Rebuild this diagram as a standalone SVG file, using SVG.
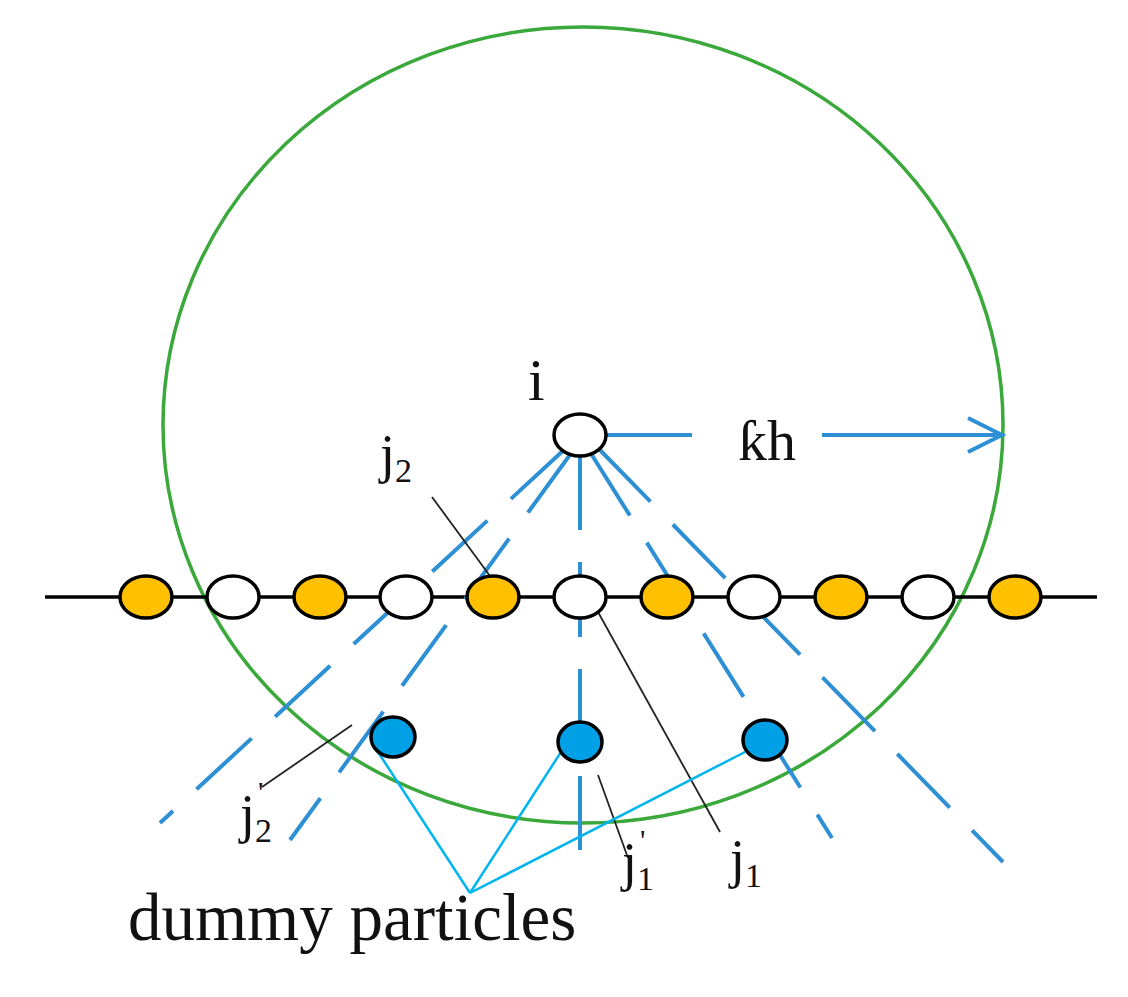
<svg xmlns="http://www.w3.org/2000/svg" width="1128" height="997" viewBox="0 0 1128 997">
<style>
.t{font-family:"Liberation Serif",serif;fill:#111}
.p{stroke:#000;stroke-width:3.5}
.o{fill:#FFC000}.w{fill:#fff}.d{fill:#00A0E6}
.ds{stroke:#2E90D4;stroke-width:4;stroke-dasharray:75 32;fill:none}
.ld{stroke:#222;stroke-width:1.8}
.cy{stroke:#00B4EE;stroke-width:2.5}
</style>
<defs><marker id="ar" markerWidth="40" markerHeight="40" refX="36" refY="20" orient="auto" markerUnits="userSpaceOnUse"><path d="M2 3 L36 20 L2 37" fill="none" stroke="#2E90D4" stroke-width="4"/></marker></defs>
<rect width="1128" height="997" fill="#fff"/>
<ellipse id="range" cx="583" cy="425" rx="420" ry="398" fill="none" stroke="#3AA83A" stroke-width="3.5"/>
<g id="connectors">
<line x1="45" y1="597" x2="1097" y2="597" stroke="#000" stroke-width="3.5"/>
<path class="ds" d="M566 448 L160 823"/>
<path class="ds" d="M572 452 L290 840"/>
<path class="ds" d="M580 455 L580 850"/>
<path class="ds" d="M590 452 L832 838"/>
<path class="ds" d="M598 448 L1003 862"/>
<line x1="607" y1="435" x2="692" y2="435" stroke="#2E90D4" stroke-width="4"/>
<line x1="822" y1="435" x2="1002" y2="435" stroke="#2E90D4" stroke-width="4" marker-end="url(#ar)"/>
<line class="ld" x1="432" y1="497" x2="490" y2="576"/>
<line class="ld" x1="598" y1="612" x2="720" y2="832"/>
<line class="ld" x1="598" y1="775" x2="628" y2="858"/>
<line class="ld" x1="262" y1="787" x2="352" y2="725"/>
<line class="cy" x1="470" y1="893" x2="378" y2="752"/>
<line class="cy" x1="470" y1="893" x2="561" y2="752"/>
<line class="cy" x1="470" y1="893" x2="745" y2="752"/>
</g>
<g id="i"><ellipse class="p w" cx="580" cy="435" rx="26" ry="21"/><text class="t" x="528" y="400" font-size="60">i</text></g>
<g id="chain">
<ellipse class="p o" cx="146" cy="597" rx="26" ry="21"/>
<ellipse class="p w" cx="233" cy="597" rx="26" ry="21"/>
<ellipse class="p o" cx="320" cy="597" rx="26" ry="21"/>
<ellipse class="p w" cx="406" cy="597" rx="26" ry="21"/>
<ellipse class="p o" cx="493" cy="597" rx="26" ry="21"/>
<ellipse class="p w" cx="580" cy="597" rx="26" ry="21"/>
<ellipse class="p o" cx="667" cy="597" rx="26" ry="21"/>
<ellipse class="p w" cx="754" cy="597" rx="26" ry="21"/>
<ellipse class="p o" cx="841" cy="597" rx="26" ry="21"/>
<ellipse class="p w" cx="928" cy="597" rx="26" ry="21"/>
<ellipse class="p o" cx="1015" cy="597" rx="26" ry="21"/>
</g>
<g id="dummies">
<ellipse class="p d" cx="393" cy="737" rx="22" ry="20"/>
<ellipse class="p d" cx="580" cy="742" rx="22" ry="20"/>
<ellipse class="p d" cx="765" cy="740" rx="22" ry="20"/>
</g>
<g id="labels">
<text class="t" x="380" y="472" font-size="54">j<tspan font-size="34" dy="10">2</tspan></text>
<text class="t" x="240" y="832" font-size="54">j<tspan font-size="34" dy="10">2</tspan><tspan font-size="30" dx="-14" dy="-40">'</tspan></text>
<text class="t" x="622" y="880" font-size="54">j<tspan font-size="34" dy="10">1</tspan><tspan font-size="30" dx="-14" dy="-40">'</tspan></text>
<text class="t" x="730" y="877" font-size="54">j<tspan font-size="34" dy="10">1</tspan></text>
<text class="t" x="738" y="460" font-size="58">ƙh</text>
<text class="t" x="128" y="940" font-size="67">dummy particles</text>
</g>
</svg>
